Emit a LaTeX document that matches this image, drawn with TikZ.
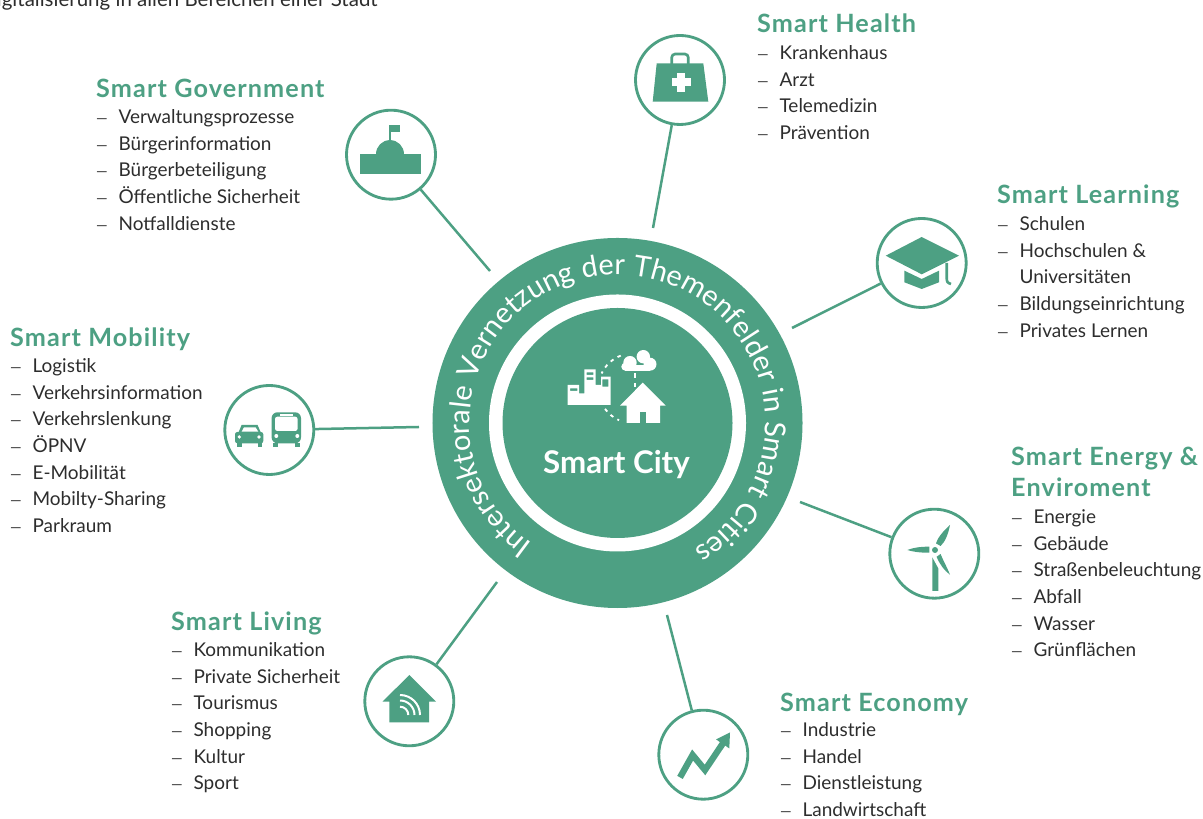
\documentclass[tikz,border=0pt]{standalone}
\usepackage{fontspec}
\setmainfont{Lato}
\usetikzlibrary{decorations.text}
\definecolor{smartgreen}{RGB}{77,160,131}
\definecolor{smartgrey}{RGB}{45,45,45}
\newfontfamily\headfont[LetterSpace=4.5]{Lato}
\newcommand{\dashitem}[1]{\strut\makebox[0.67cm][l]{\fontsize{12.5}{12.5}\selectfont —}#1}
\newcommand{\dashmore}[1]{\strut\hspace*{0.67cm}#1}
\tikzset{
  disc/.style={circle,inner sep=0pt},
  iconring/.style={draw=smartgreen,circle,line width=0.085cm,minimum size=2.67cm,inner sep=0pt},
  spoke/.style={draw=smartgreen,line width=0.075cm},
  heading/.style={anchor=north west,inner sep=0pt,align=left,text=smartgreen,
    font=\headfont\bfseries\fontsize{21.5}{26.5}\selectfont},
  listing/.style={anchor=north west,inner sep=0pt,align=left,text=smartgrey,
    font=\fontsize{16.2}{22.68}\selectfont},
}
\begin{document}
\begin{tikzpicture}[x=0.03cm,y=0.03cm]
\clip (0,0) rectangle (1203,819);

\node[anchor=base east,inner sep=0pt,text=smartgrey,font=\fontsize{17.5}{22.78}\selectfont] (caption) at (378,812)
  {Digitalisierung in allen Bereichen einer Stadt};

% Centre
\node[disc,fill=smartgreen,minimum size=11.1cm] (outerdisc) at (617.5,396){};
\node[disc,fill=white,minimum size=7.71cm] (whitedisc) at (617.5,396){};
\node[disc,fill=smartgreen,minimum size=6.9cm] (core) at (617.5,396){};
\node[text=white,font=\bfseries\fontsize{26.7}{30}\selectfont] (citylabel) at (616.5,354) {Smart City};
\path[decorate,decoration={text along path,text align=center,
    text={|\color{white}\fontsize{24.7}{30}\selectfont|Intersektorale Vernetzung der Themenfelder in Smart Cities}}]
  (outerdisc.center) ++(236:148) arc[start angle=236,end angle=-60,radius=148];

% City icon
\begin{scope}[shift={(core.center)}]
\fill[white,even odd rule] (-49.8,18) -- (-49.8,38) -- (-38.5,38) -- (-38.5,29.7) -- (-33.2,29.7)
  -- (-33.2,53.7) -- (-21.8,53.7) -- (-21.8,38) -- (-16.5,38) -- (-16.5,46.3) -- (-6.8,46.3) -- (-6.8,18) -- cycle
  (-47.5,34.7) rectangle (-40.2,32)
  (-30.8,50.7) rectangle (-24.2,48)
  (-30.8,45.7) rectangle (-24.2,43)
  (-15.2,43.7) rectangle (-9.2,36.3);
\fill[white] (25.8,66.3) circle (6.7);
\fill[white] (12.5,60.3) circle (6.7);
\fill[white] (7.8,56.3) circle (4);
\fill[white] (32.5,58.8) circle (6.5);
\fill[white] (7.8,52.3) rectangle (32.5,58);
\fill[white] (25.2,40.3) -- (2.5,17.3) -- (9.2,17.3) -- (9.2,0) -- (42.5,0) -- (42.5,17.3) -- (48.2,17.3) -- cycle;
\fill[smartgreen] (22.5,11.3) rectangle (28.5,0);
\draw[white,line width=0.055cm,dash pattern=on 3pt off 4pt] (15.8,34.7) ++(111:35) arc[start angle=111,end angle=155,radius=35];
\draw[white,line width=0.055cm,dash pattern=on 3pt off 4pt] (15.8,34.7) ++(216:35) arc[start angle=216,end angle=246,radius=35];
\draw[white,line width=0.055cm,dash pattern=on 4pt off 4pt] (17.8,49.5) -- (17.8,36);
\end{scope}

% Smart Health
\node[iconring] (health) at (680,739){};
\coordinate (healthend) at (653,591);
\draw[spoke] (health) -- (healthend);
\begin{scope}[shift={(health.center)}]
\fill[smartgreen] (-23.3,16.7) -- (23.3,16.7) -- (28.3,-21.7) -- (-27.3,-21.7) -- cycle;
\draw[smartgreen,line width=0.08cm,rounded corners=3pt] (-8.3,16) -- (-8.3,26) -- (8.3,26) -- (8.3,16);
\fill[white] (-3.2,-11.8) rectangle (5.2,7.2);
\fill[white] (-8.5,-6.5) rectangle (10.5,1.9);
\end{scope}
\node[heading] (healthtitle) at (757,805.5) {Smart Health};
\node[listing] (healthlist) at (757,778) {\dashitem{Krankenhaus}\\\dashitem{Arzt}\\\dashitem{Telemedizin}\\\dashitem{Prävention}};

% Smart Learning
\node[iconring] (learning) at (921.7,556){};
\coordinate (learningend) at (792,491);
\draw[spoke] (learning) -- (learningend);
\begin{scope}[shift={(learning.center)}]
\fill[smartgreen] (-36,7.3) -- (0,26) -- (37.3,7.3) -- (0,-11.3) -- cycle;
\fill[smartgreen] (-17.3,-7.7) -- (0,-16) -- (17.3,-7.7) -- (17.3,-19.3) -- (0,-26) -- (-17.3,-19.3) -- cycle;
\draw[smartgreen,line width=0.08cm] (25,0) -- (25,-15) .. controls (25,-19) and (26,-20) .. (29.3,-21);
\end{scope}
\node[heading] (learningtitle) at (997,634.5) {Smart Learning};
\node[listing] (learninglist) at (997,607) {\dashitem{Schulen}\\\dashitem{Hochschulen \&}\\\dashmore{Universitäten}\\\dashitem{Bildungseinrichtung}\\\dashitem{Privates Lernen}};

% Smart Energy
\node[iconring] (energy) at (934.3,265.3){};
\coordinate (energyend) at (800,317);
\draw[spoke] (energy) -- (energyend);
\begin{scope}[shift={(energy.center)}]
\fill[smartgreen] (-27,3.7) .. controls (-18,7) and (-10,7) .. (-5,7) -- (-5,1) .. controls (-10,1) and (-18,1) .. cycle;
\fill[smartgreen] (15.7,28.7) .. controls (8,22) and (3,15) .. (1.7,10.3) -- (6.3,7.7) .. controls (11,12) and (14,20) .. cycle;
\fill[smartgreen] (15.7,-21) .. controls (12,-12) and (8,-5) .. (6.3,-0.3) -- (2.3,-3) .. controls (5,-10) and (10,-17) .. cycle;
\fill[smartgreen] (0.7,3.7) circle (3);
\fill[smartgreen] (-2,-3.7) -- (4,-14.7) -- (4,-37.3) -- (-2,-37.3) -- cycle;
\end{scope}
\node[heading] (energytitle) at (1011,372.5) {Smart Energy \&\\Enviroment};
\node[listing] (energylist) at (1011,314) {\dashitem{Energie}\\\dashitem{Gebäude}\\\dashitem{Straßenbeleuchtung}\\\dashitem{Abfall}\\\dashitem{Wasser}\\\dashitem{Grünflächen}};

% Smart Economy
\node[iconring] (economy) at (703.3,64.3){};
\coordinate (economyend) at (667,204);
\draw[spoke] (economy) -- (economyend);
\begin{scope}[shift={(economy.center)}]
\draw[smartgreen,line width=0.19cm] (-23.3,-22.7) -- (-10.7,-0.3) -- (1.7,-15.3) -- (20.7,13);
\fill[smartgreen] (12.7,15.3) -- (26.7,22.3) -- (26,6.3) -- cycle;
\end{scope}
\node[heading] (economytitle) at (780,126.5) {Smart Economy};
\node[listing] (economylist) at (780,101) {\dashitem{Industrie}\\\dashitem{Handel}\\\dashitem{Dienstleistung}\\\dashitem{Landwirtschaft}};

% Smart Living
\node[iconring] (living) at (409.3,117.7){};
\coordinate (livingend) at (497,237);
\draw[spoke] (living) -- (livingend);
\begin{scope}[shift={(living.center)}]
\fill[smartgreen] (0,26.3) -- (26.7,-0.3) -- (19.7,-0.3) -- (19.7,-21) -- (-20,-21) -- (-20,-0.3) -- (-26.7,-0.3) -- cycle;
\draw[white,line width=0.06cm] (-9.3,6.3) arc[start angle=90,end angle=0,radius=20];
\draw[white,line width=0.06cm] (-9.3,0.8) arc[start angle=90,end angle=0,radius=14.5];
\draw[white,line width=0.06cm] (-9.3,-5.4) arc[start angle=90,end angle=0,radius=8.3];
\end{scope}
\node[heading] (livingtitle) at (171,207.5) {Smart Living};
\node[listing] (livinglist) at (171,181) {\dashitem{Kommunikation}\\\dashitem{Private Sicherheit}\\\dashitem{Tourismus}\\\dashitem{Shopping}\\\dashitem{Kultur}\\\dashitem{Sport}};

% Smart Mobility
\node[iconring] (mobility) at (269.3,389){};
\coordinate (mobilityend) at (419,392);
\draw[spoke] (mobility) -- (mobilityend);
\begin{scope}[shift={(mobility.center)}]
% car
\fill[smartgreen,rounded corners=2pt] (-34.3,-13.3) rectangle (-6,-2);
\fill[smartgreen] (-31,-3) -- (-27.7,5) -- (-11.7,5) -- (-8.3,-3) -- cycle;
\fill[white] (-27.7,-1.7) -- (-25.3,2.7) -- (-13.7,2.7) -- (-11,-1.7) -- cycle;
\fill[smartgreen] (-32.3,-13) rectangle (-27.7,-16.7);
\fill[smartgreen] (-11.7,-13) rectangle (-7.7,-16.7);
\fill[white] (-30,-7) circle (1.8);
\fill[white] (-10.3,-7) circle (1.8);
% bus
\fill[smartgreen,rounded corners=5pt] (2.3,-13.3) rectangle (31.7,17.7);
\fill[white,rounded corners=2pt] (5.7,-1) rectangle (28.3,13.3);
\fill[white] (10.7,15.7) rectangle (24,14.4);
\fill[smartgreen] (4,-13) rectangle (9,-16.7);
\fill[smartgreen] (25.7,-13) rectangle (30.7,-16.7);
\fill[white] (7,-6) circle (2);
\fill[white] (28,-6) circle (2);
\end{scope}
\node[heading] (mobilitytitle) at (10,491.5) {Smart Mobility};
\node[listing] (mobilitylist) at (10,465) {\dashitem{Logistik}\\\dashitem{Verkehrsinformation}\\\dashitem{Verkehrslenkung}\\\dashitem{ÖPNV}\\\dashitem{E-Mobilität}\\\dashitem{Mobilty-Sharing}\\\dashitem{Parkraum}};

% Smart Government
\node[iconring] (government) at (391,664.3){};
\coordinate (governmentend) at (490,548);
\draw[spoke] (government) -- (governmentend);
\begin{scope}[shift={(government.center)}]
\fill[smartgreen] (-31,0.7) rectangle (30,-19.3);
\fill[smartgreen] (-15,0.6) arc[start angle=180,end angle=0,radius=14] -- cycle;
\fill[smartgreen] (-1.8,14) rectangle (-0.2,29.7);
\fill[smartgreen] (-1.8,29.7) rectangle (9,23);
\end{scope}
\node[heading] (governmenttitle) at (96,740.5) {Smart Government};
\node[listing] (governmentlist) at (96,714) {\dashitem{Verwaltungsprozesse}\\\dashitem{Bürgerinformation}\\\dashitem{Bürgerbeteiligung}\\\dashitem{Öffentliche Sicherheit}\\\dashitem{Notfalldienste}};

\end{tikzpicture}
\end{document}
